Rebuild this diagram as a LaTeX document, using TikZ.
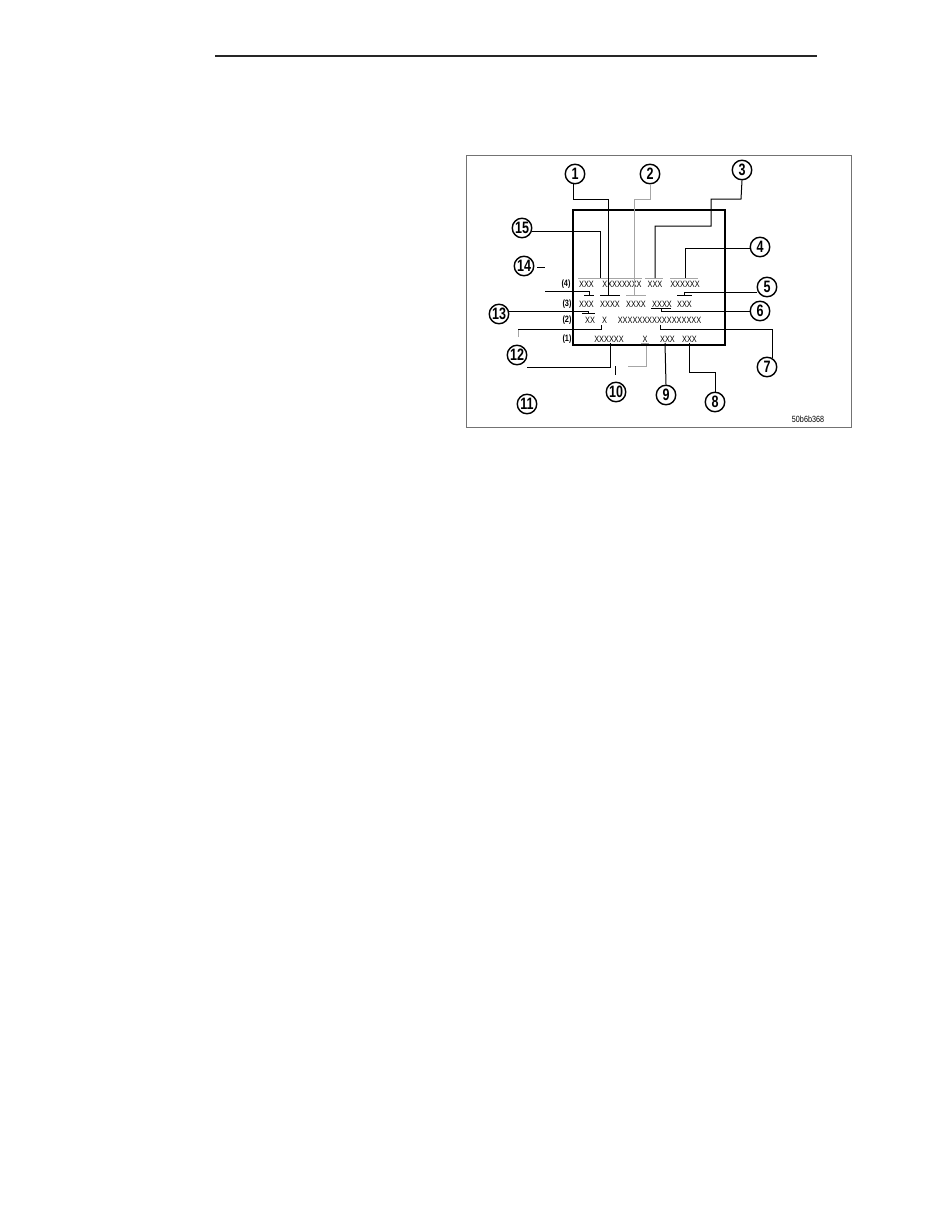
\documentclass[tikz,border=0pt]{standalone}
\usepackage{fontspec}
\newfontfamily\txfont[FakeStretch=0.8]{Liberation Sans}
\newfontfamily\numfontbase[FakeStretch=0.76]{Liberation Sans}
\newcommand{\numfnt}{\numfontbase\bfseries\fontsize{16.5}{17}\selectfont}
\newcommand{\rowfnt}{\txfont\fontsize{9.2}{10}\selectfont}
\begin{document}
\begin{tikzpicture}[x=1pt,y=-1pt,
  num/.style={circle, draw, line width=1.4pt, minimum size=19.5pt, inner sep=0pt, font=\numfnt},
  tx/.style={inner sep=0pt, font=\rowfnt},
  lab/.style={inner sep=0pt, font=\rowfnt\bfseries},
  ld/.style={line width=1pt, black},
  gl/.style={line width=0.8pt, black!35},
  bar/.style={line width=0.8pt, black}]
\fill[white] (0,0) rectangle (935,1210);
\useasboundingbox (0,0) rectangle (935,1210);
% header rule
\coordinate (r1) at (215,56); \coordinate (r2) at (817,56);
\draw[line width=2pt, black!85] (r1) -- (r2);
% outer frame
\draw[line width=0.9pt, black!55] (466,155) rectangle (851,427);
% inner box
\draw[line width=2pt] (573,210) rectangle (725,345);
% circles
\node[num] (c1) at (575,174) {1};
\node[num] (c2) at (650,174) {2};
\node[num] (c3) at (742,170) {3};
\node[num] (c4) at (760,247) {4};
\node[num] (c5) at (767,287) {5};
\node[num] (c6) at (760,311) {6};
\node[num] (c7) at (767,367) {7};
\node[num] (c8) at (715,402) {8};
\node[num] (c9) at (666,395) {9};
\node[num] (c10) at (616,392) {10};
\node[num] (c11) at (527,404) {11};
\node[num] (c12) at (517,355) {12};
\node[num] (c13) at (499,314) {13};
\node[num] (c14) at (524,266) {14};
\node[num] (c15) at (522,228) {15};
% row labels
\node[lab] (l4) at (566,284.5) {(4)};
\node[lab] (l3) at (567,304) {(3)};
\node[lab] (l2) at (567,320.5) {(2)};
\node[lab] (l1) at (567,339.5) {(1)};
% row 4
\node[tx] (a1) at (586.5,284.5) {XXX};
\node[tx] (a2) at (622,284.5) {XXXXXXXX};
\node[tx] (a3) at (655,284.5) {XXX};
\node[tx] (a4) at (685,284.5) {XXXXXX};
% row 3
\node[tx] (b1) at (586.5,304) {XXX};
\node[tx] (b2) at (610,304) {XXXX};
\node[tx] (b3) at (636,304) {XXXX};
\node[tx] (b4) at (662,304) {XXXX};
\node[tx] (b5) at (684.5,304) {XXX};
% row 2
\node[tx] (d1) at (590,320.5) {XX};
\node[tx] (d2) at (604.5,320.5) {X};
\node[tx] (d3) at (659.5,320.5) {XXXXXXXXXXXXXXXXX};
% row 1
\node[tx] (e1) at (609,339.5) {XXXXXX};
\node[tx] (e2) at (645,339.5) {X};
\node[tx] (e3) at (667.5,339.5) {XXX};
\node[tx] (e4) at (689.5,339.5) {XXX};
% code
\node[inner sep=0pt, font=\txfont\fontsize{9}{10}\selectfont] (code) at (808,419) {50b6b368};
% gray overlines of row 4
\draw[gl] (578,278) -- (642,278);
\draw[gl] (645,278) -- (663,278);
\draw[gl] (670,278) -- (698,278);
% overlines / underlines
\draw[bar] (584,295) -- (594,295);
\draw[bar] (600,295) -- (620,295);
\draw[gl] (626,295) -- (646,295);
\draw[bar] (677,295) -- (692,295);
\draw[bar] (582,313) -- (595,313);
\draw[bar] (651,308.5) -- (671,308.5);
\draw[gl] (641,343) -- (649,343);
% leaders
\draw[ld] (573,184) -- (573,199) -- (608,199) -- (608,295);
\draw[gl] (c2.south) -- (650,199) -- (634,199) -- (634,295);
\draw[ld] (c3.south) -- (741,199) -- (711,199) -- (711,226) -- (655,226) -- (655,278);
\draw[ld] (c4.west) ++(0,1.5) -- (685,248.5) -- (685,278);
\draw[ld] (532,231) -- (600,231) -- (600,278);
\coordinate (d14a) at (537,267); \coordinate (d14b) at (545,267);
\draw[ld] (d14a) -- (d14b);
\coordinate (u0) at (545,291);
\draw[ld] (u0) -- (589,291) -- (589,295);
\draw[ld] (757,292) -- (684,292) -- (684,295);
\draw[ld] (c6.west) -- (661,311) -- (661,308.5);
\draw[ld] (509,311) -- (588,311) -- (588,313);
\draw[gl] (518,337) -- (518,329);
\draw[ld] (518,329) -- (601,329) -- (601,325);
\draw[ld] (527,367) -- (610,367) -- (610,343);
\draw[ld] (615,366) -- (615,375);
\draw[gl] (628,366) -- (646,366) -- (646,346);
\draw[ld] (c9.north) -- (665,343);
\draw[ld] (c8.north) -- (715,372) -- (689,372) -- (689,343);
\draw[ld] (772,358) -- (772,329) -- (660,329) -- (660,325);
\end{tikzpicture}
\end{document}
